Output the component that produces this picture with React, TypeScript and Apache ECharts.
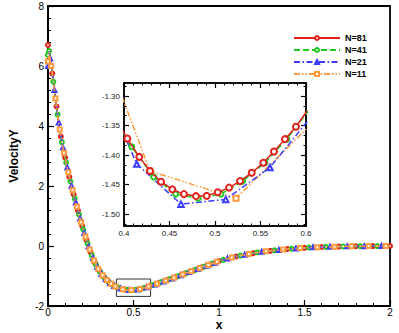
import React, { useEffect, useRef } from "react";
import * as echarts from "echarts";

const FONT = "'Liberation Sans', Arial, Helvetica, sans-serif";

const seriesNames = ["N=81", "N=41", "N=21", "N=11"];
const seriesColors = ["#e3211c", "#1ec81e", "#3c3cff", "#ff9b3d"];
const seriesSymbols = ["emptyCircle", "emptyCircle", "emptyTriangle", "emptyRect"];
const seriesDashes: any[] = ["solid", [6, 3], [6, 2.5, 1.5, 2.5], [6, 2, 1.5, 2, 1.5, 2]];

const wallX = [
  0, 0.00625, 0.0125, 0.01875, 0.025, 0.03125, 0.0375, 0.04375, 0.05, 0.05625, 0.0625, 0.06875, 0.075, 0.08125, 0.0875, 0.09375,
  0.1, 0.10625, 0.1125, 0.11875, 0.125, 0.13125, 0.1375, 0.14375, 0.15, 0.15625, 0.1625, 0.16875, 0.175, 0.18125, 0.1875, 0.19375,
  0.2, 0.20625, 0.2125, 0.21875, 0.225, 0.23125, 0.2375, 0.24375, 0.25, 0.25625, 0.2625, 0.26875, 0.275, 0.28125, 0.2875, 0.29375,
  0.3, 0.30625, 0.3125, 0.31875, 0.325, 0.33125, 0.3375, 0.34375, 0.35, 0.35625, 0.3625, 0.36875, 0.375, 0.38125, 0.3875, 0.39375,
];
const wallProfile = [
  6.7, 6.5, 6.25, 6.0, 5.75, 5.48, 5.2, 4.92, 4.65, 4.38, 4.12, 3.88, 3.65, 3.46, 3.28, 3.11,
  2.95, 2.78, 2.62, 2.46, 2.3, 2.15, 2.0, 1.86, 1.72, 1.58, 1.45, 1.31, 1.18, 1.05, 0.92, 0.79,
  0.67, 0.55, 0.43, 0.31, 0.2, 0.09, -0.02, -0.12, -0.22, -0.31, -0.4, -0.48, -0.56, -0.63, -0.7, -0.76,
  -0.82, -0.875, -0.93, -0.975, -1.02, -1.06, -1.1, -1.135, -1.17, -1.2, -1.23, -1.255, -1.28, -1.305, -1.33, -1.348,
];
const valleyX = [
  0.4, 0.4125, 0.425, 0.4375, 0.45, 0.4625, 0.475, 0.4875, 0.5, 0.5125, 0.525, 0.5375, 0.55, 0.5625, 0.575, 0.5875,
  0.6, 0.6125, 0.625, 0.6375, 0.65, 0.6625, 0.675, 0.6875, 0.7, 0.7125, 0.725, 0.7375, 0.75, 0.7625, 0.775, 0.7875,
  0.8, 0.8125, 0.825, 0.8375, 0.85, 0.8625, 0.875, 0.8875, 0.9, 0.9125, 0.925, 0.9375, 0.95, 0.9625, 0.975, 0.9875,
];
const valleyProfile = [
  -1.365, -1.395, -1.42, -1.44, -1.455, -1.464, -1.469, -1.469, -1.464, -1.457, -1.446, -1.433, -1.416, -1.397, -1.376, -1.353,
  -1.327, -1.303, -1.28, -1.255, -1.23, -1.205, -1.18, -1.155, -1.13, -1.105, -1.08, -1.055, -1.03, -1.003, -0.975, -0.948,
  -0.92, -0.895, -0.87, -0.845, -0.82, -0.793, -0.765, -0.738, -0.71, -0.685, -0.66, -0.635, -0.61, -0.583, -0.555, -0.528,
];
const tailX = [
  1, 1.025, 1.05, 1.075, 1.1, 1.125, 1.15, 1.175, 1.2, 1.225, 1.25, 1.275, 1.3, 1.325, 1.35, 1.375,
  1.4, 1.425, 1.45, 1.475, 1.5, 1.525, 1.55, 1.575, 1.6, 1.625, 1.65, 1.675, 1.7, 1.725, 1.75, 1.775,
  1.8, 1.825, 1.85, 1.875, 1.9, 1.925, 1.95, 1.975, 2,
];
const tailProfile = [
  -0.5, -0.46, -0.42, -0.385, -0.35, -0.32, -0.29, -0.265, -0.24, -0.215, -0.195, -0.177, -0.16, -0.145, -0.13, -0.115,
  -0.1, -0.09, -0.08, -0.07, -0.06, -0.052, -0.045, -0.039, -0.034, -0.029, -0.025, -0.021, -0.018, -0.015, -0.012, -0.01,
  -0.008, -0.006, -0.005, -0.004, -0.003, -0.002, -0.001, -0.0005, 0,
];
// wall value of each resolution (x = 0)
const wallY = [6.7, 6.37, 6.0, 6.15];

// inset (zoom on the minimum)
const inset81X = [0.391, 0.4036, 0.4168, 0.4286, 0.4407, 0.4531, 0.4659, 0.4791, 0.4909, 0.503, 0.5154, 0.5275, 0.5403, 0.5531, 0.5648, 0.5769, 0.589, 0.6012];
const inset81Y = [-1.338, -1.372, -1.403, -1.427, -1.445, -1.458, -1.466, -1.4695, -1.469, -1.463, -1.455, -1.444, -1.43, -1.413, -1.394, -1.373, -1.352, -1.325];
const inset41X = [0.3844, 0.4085, 0.4326, 0.4568, 0.4816, 0.5066, 0.5304, 0.5549, 0.5788, 0.6028];
const inset41Y = [-1.326, -1.386, -1.437, -1.466, -1.473, -1.466, -1.444, -1.413, -1.373, -1.325];
const inset21X = [0.365, 0.414, 0.4626, 0.5118, 0.5604, 0.6095];
const inset21Y = [-1.24, -1.415, -1.483, -1.475, -1.421, -1.328];
const inset11X = [0.334, 0.4286, 0.5231, 0.6176];
const inset11Y = [-1.04, -1.427, -1.473, -1.33];

const insetX = [inset81X, inset41X, inset21X, inset11X];
const insetY = [inset81Y, inset41Y, inset21Y, inset11Y];
const insetSymbolSize = [6, 5, 5.5, 5];

// axes
const mainXRange = [0, 2];
const mainYRange = [-2, 8];
const insetXRange = [0.4, 0.6];
const insetYRange = [-1.52, -1.278];
const insetYMajor = [-1.5, -1.45, -1.4, -1.35, -1.3];
const insetYLabels = ["-1.50", "-1.45", "-1.40", "-1.35", "-1.30"];

// rectangle marking the zoomed region on the main plot
const zoomBoxX = [0.4, 0.6];
const zoomBoxY = [-1.68, -1.1];

export default function App() {
  const ref = useRef<HTMLDivElement>(null);

  useEffect(() => {
    if (!ref.current) return;
    const chart = echarts.init(ref.current, undefined, { renderer: "svg" });

    const mainX = [...wallX, ...valleyX, ...tailX];
    const mainY = [...wallProfile, ...valleyProfile, ...tailProfile];

    const insetYMinor: number[] = [];
    const step = 0.05;
    for (let m = -1.55; m < -1.25; m += step) {
      for (let k = 1; k <= 2; k++) {
        const v = Math.round((m + (k * step) / 3) * 100000) / 100000;
        if (v > insetYRange[0] && v < insetYRange[1]) insetYMinor.push(v);
      }
    }

    const black = "#000";
    const tickStyle = { color: black, width: 1.2 };

    const mainSeries = seriesNames.map((name, k) => ({
      type: "line",
      name,
      xAxisIndex: 0,
      yAxisIndex: 0,
      data: mainX.map((x, i) => [x, i === 0 ? wallY[k] : mainY[i]]),
      symbol: seriesSymbols[k],
      symbolSize: (_v: any, p: any) => (p.dataIndex === 0 || p.dataIndex % 4 === k ? 4 : 0),
      showSymbol: true,
      showAllSymbol: true,
      lineStyle: { color: seriesColors[k], width: 1.5, type: seriesDashes[k] },
      itemStyle: { color: seriesColors[k], borderWidth: 1 },
      z: 2 + k,
      silent: true,
      ...(k === 0
        ? {
            markArea: {
              silent: true,
              itemStyle: { color: "rgba(0,0,0,0)", borderColor: "#333", borderWidth: 1 },
              data: [[{ coord: [zoomBoxX[0], zoomBoxY[1]] }, { coord: [zoomBoxX[1], zoomBoxY[0]] }]],
            },
          }
        : {}),
    }));

    const insetOrder = [3, 2, 1, 0];
    const insetSeries = insetOrder.map((k, j) => ({
      type: "line",
      name: seriesNames[k],
      xAxisIndex: 1,
      yAxisIndex: 1,
      data: insetX[k].map((x, i) => [x, insetY[k][i]]),
      symbol: seriesSymbols[k],
      symbolSize: insetSymbolSize[k],
      showSymbol: true,
      showAllSymbol: true,
      clip: true,
      lineStyle: { color: seriesColors[k], width: 1.5, type: seriesDashes[k] },
      itemStyle: { color: seriesColors[k], borderWidth: 1.1 },
      z: 10 + j,
      silent: true,
    }));

    const insetXCommon = {
      gridIndex: 1,
      type: "value",
      min: insetXRange[0],
      max: insetXRange[1],
      interval: 0.05,
      splitLine: { show: false },
      minorSplitLine: { show: false },
      axisLine: { show: true, onZero: false, lineStyle: { color: black, width: 1.5 } },
      axisTick: { show: true, inside: true, length: 5, lineStyle: tickStyle },
      minorTick: { show: true, splitNumber: 5, length: 2.5, lineStyle: { color: black, width: 1 } },
    };

    const insetYCommon = {
      gridIndex: 1,
      type: "value",
      min: insetYRange[0],
      max: insetYRange[1],
      splitLine: { show: false },
      minorSplitLine: { show: false },
    };

    const option: any = {
      animation: false,
      backgroundColor: "#fff",
      textStyle: { fontFamily: FONT },
      grid: [
        {
          left: 48,
          top: 6,
          right: 9,
          bottom: 27,
          show: true,
          borderColor: black,
          borderWidth: 1.8,
          backgroundColor: "rgba(0,0,0,0)",
          containLabel: false,
          outerBoundsMode: "none",
        },
        {
          left: 124,
          top: 83,
          width: 182,
          height: 143,
          show: true,
          borderColor: black,
          borderWidth: 1.5,
          backgroundColor: "#fff",
          containLabel: false,
          outerBoundsMode: "none",
        },
      ],
      legend: {
        data: seriesNames,
        orient: "vertical",
        left: 293,
        top: 32,
        itemWidth: 46,
        itemHeight: 5,
        itemGap: 0,
        padding: 0,
        selectedMode: false,
        textStyle: { fontSize: 9, fontWeight: "bold", color: black, fontFamily: FONT, lineHeight: 12 },
      },
      xAxis: [
        {
          gridIndex: 0,
          type: "value",
          min: mainXRange[0],
          max: mainXRange[1],
          interval: 0.5,
          name: "x",
          nameLocation: "middle",
          nameGap: 13,
          nameMoveOverlap: false,
          nameTextStyle: { fontSize: 12, fontWeight: "bold", color: black, fontFamily: FONT },
          splitLine: { show: false },
          minorSplitLine: { show: false },
          axisLine: { show: true, onZero: false, lineStyle: { color: black, width: 1.8 } },
          axisTick: { show: true, inside: true, length: 6, lineStyle: tickStyle },
          minorTick: { show: true, splitNumber: 5, length: 3, lineStyle: { color: black, width: 1 } },
          axisLabel: { margin: 1, fontSize: 10, color: black, fontFamily: FONT },
        },
        {
          ...insetXCommon,
          position: "bottom",
          axisLabel: { show: true, margin: 3, fontSize: 8, color: "#222", fontFamily: FONT },
        },
        {
          ...insetXCommon,
          position: "top",
          axisLabel: { show: false },
        },
      ],
      yAxis: [
        {
          gridIndex: 0,
          type: "value",
          min: mainYRange[0],
          max: mainYRange[1],
          interval: 2,
          name: "VelocityY",
          nameLocation: "middle",
          nameGap: 28,
          nameMoveOverlap: false,
          nameTextStyle: { fontSize: 12, fontWeight: "bold", color: black, fontFamily: FONT },
          splitLine: { show: false },
          minorSplitLine: { show: false },
          axisLine: { show: true, onZero: false, lineStyle: { color: black, width: 1.8 } },
          axisTick: { show: true, inside: true, length: 6, lineStyle: tickStyle },
          minorTick: { show: true, splitNumber: 5, length: 3, lineStyle: { color: black, width: 1 } },
          axisLabel: { margin: 4, fontSize: 10, color: black, fontFamily: FONT },
        },
        {
          ...insetYCommon,
          position: "left",
          axisLine: { show: true, onZero: false, lineStyle: { color: black, width: 1.5 } },
          axisTick: { show: true, inside: true, length: 5, lineStyle: tickStyle, customValues: insetYMajor },
          axisLabel: {
            show: true,
            margin: 4,
            fontSize: 8,
            color: "#222",
            fontFamily: FONT,
            customValues: insetYMajor,
            formatter: (v: number) => {
              const idx = insetYMajor.findIndex((m) => Math.abs(m - v) < 1e-6);
              return idx >= 0 ? insetYLabels[idx] : "";
            },
          },
        },
        {
          ...insetYCommon,
          position: "right",
          axisLine: { show: true, onZero: false, lineStyle: { color: black, width: 1.5 } },
          axisTick: { show: true, inside: true, length: 5, lineStyle: tickStyle, customValues: insetYMajor },
          axisLabel: { show: false },
        },
        {
          ...insetYCommon,
          position: "left",
          axisLine: { show: false },
          axisTick: { show: true, inside: true, length: 2.5, lineStyle: { color: black, width: 1 }, customValues: insetYMinor },
          axisLabel: { show: false },
        },
        {
          ...insetYCommon,
          position: "right",
          axisLine: { show: false },
          axisTick: { show: true, inside: true, length: 2.5, lineStyle: { color: black, width: 1 }, customValues: insetYMinor },
          axisLabel: { show: false },
        },
      ],
      series: [...mainSeries, ...insetSeries],
    };

    chart.setOption(option);
    return () => chart.dispose();
  }, []);

  return (
    <div
      ref={ref}
      style={{ position: "fixed", left: 0, top: 0, width: 399, height: 333, background: "#fff" }}
    />
  );
}
